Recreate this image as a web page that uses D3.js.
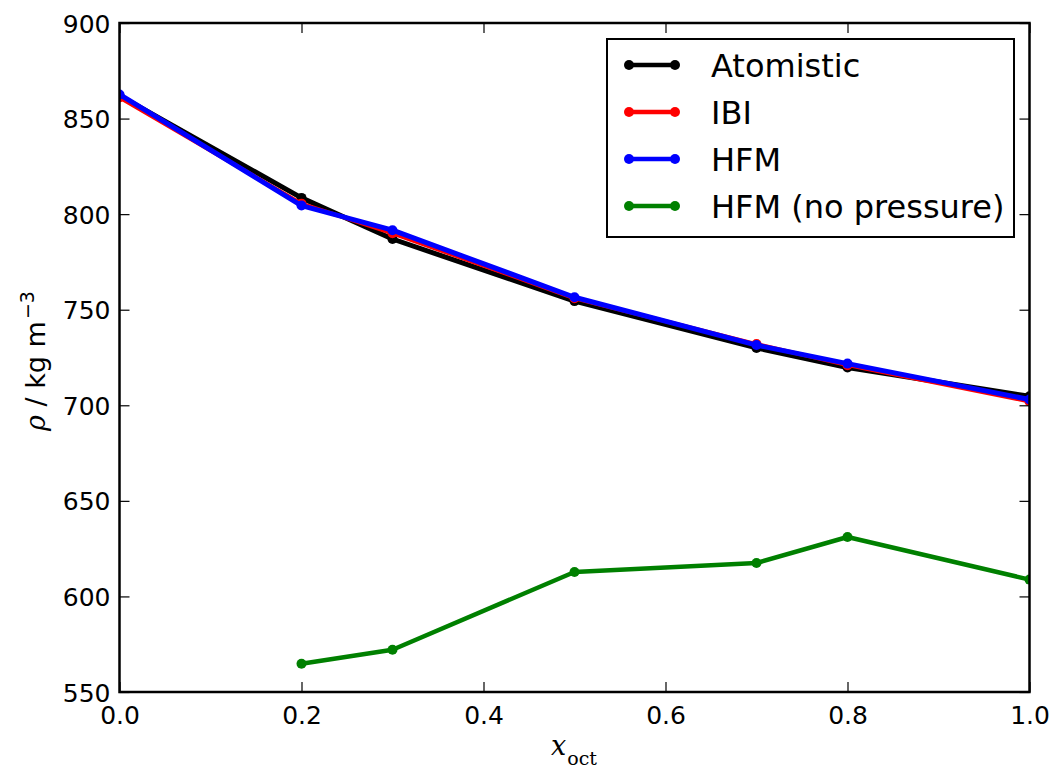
<!DOCTYPE html>
<html>
<head>
<meta charset="utf-8">
<script src="https://cdn.jsdelivr.net/npm/d3@7"></script>
<style>
  body { margin: 0; background: #fff; }
  svg { display: block; font-family: "DejaVu Sans", sans-serif; }
</style>
</head>
<body>
<svg id="chart"></svg>
<script>
// composition values
var xFrac = [0.0, 0.2, 0.3, 0.5, 0.7, 0.8, 1.0],
    xFracNoP = [0.2, 0.3, 0.5, 0.7, 0.8, 1.0];

var atomistic = [862.0, 808.5, 787.0, 754.5, 730.0, 719.8, 704.7],
    ibi = [861.0, 805.5, 790.0, 756.0, 732.0, 721.0, 702.0],
    hfm = [862.6, 804.5, 791.6, 756.5, 731.5, 721.8, 703.0],
    hfmNoPressure = [564.8, 572.1, 612.8, 617.5, 631.1, 608.8];

var seriesNames = ["Atomistic", "IBI", "HFM", "HFM (no pressure)"],
    seriesColors = ["#000000", "#ff0000", "#0000ff", "#008000"];

var xTicks = [0.0, 0.2, 0.4, 0.6, 0.8, 1.0],
    yTicks = [550, 600, 650, 700, 750, 800, 850, 900];

var width = 1054,
    height = 769,
    margin = { top: 23, right: 24.5, bottom: 77, left: 119.5 };

var svg = d3.select("#chart")
    .attr("width", width)
    .attr("height", height);

var x = d3.scaleLinear().domain([0, 1]).range([margin.left, width - margin.right]);
var y = d3.scaleLinear().domain([550, 900]).range([height - margin.bottom, margin.top]);

var series = [
    { name: seriesNames[0], color: seriesColors[0], xs: xFrac, ys: atomistic, w: 5 },
    { name: seriesNames[1], color: seriesColors[1], xs: xFrac, ys: ibi, w: 4 },
    { name: seriesNames[2], color: seriesColors[2], xs: xFrac, ys: hfm, w: 5 },
    { name: seriesNames[3], color: seriesColors[3], xs: xFracNoP, ys: hfmNoPressure, w: 4.5 }
];

var line = d3.line()
    .x(function (d) { return x(d[0]); })
    .y(function (d) { return y(d[1]); });

// clip so points at the frame edge get cut like in the original
svg.append("clipPath").attr("id", "clip")
    .append("rect")
    .attr("x", margin.left).attr("y", margin.top)
    .attr("width", width - margin.left - margin.right)
    .attr("height", height - margin.top - margin.bottom);

var plot = svg.append("g").attr("clip-path", "url(#clip)");

series.forEach(function (s) {
    var pts = s.xs.map(function (v, i) { return [v, s.ys[i]]; });
    plot.append("path")
        .datum(pts)
        .attr("fill", "none")
        .attr("stroke", s.color)
        .attr("stroke-width", s.w)
        .attr("stroke-linejoin", "round")
        .attr("d", line);
    plot.selectAll(null)
        .data(pts)
        .enter()
        .append("circle")
        .attr("cx", function (d) { return x(d[0]); })
        .attr("cy", function (d) { return y(d[1]); })
        .attr("r", 5)
        .attr("fill", s.color);
});

// axes: ticks inside on all four sides
var tickLen = 10;
var bottomAxis = d3.axisBottom(x).tickValues(xTicks).tickSizeInner(-tickLen).tickSizeOuter(0)
    .tickPadding(14).tickFormat(d3.format(".1f"));
var topAxis = d3.axisTop(x).tickValues(xTicks).tickSizeInner(-tickLen).tickSizeOuter(0).tickFormat("");
var leftAxis = d3.axisLeft(y).tickValues(yTicks).tickSizeInner(-tickLen).tickSizeOuter(0).tickPadding(9);
var rightAxis = d3.axisRight(y).tickValues(yTicks).tickSizeInner(-tickLen).tickSizeOuter(0).tickFormat("");

function styleAxis(g) {
    g.select(".domain").remove();
    g.selectAll(".tick line").attr("stroke", "#000").attr("stroke-width", 1.2);
    g.selectAll(".tick text").attr("fill", "#000").style("font-size", "25px")
        .style("font-family", "DejaVu Sans");
}

svg.append("g").attr("transform", "translate(0," + (height - margin.bottom) + ")").call(bottomAxis).call(styleAxis);
svg.append("g").attr("transform", "translate(0," + margin.top + ")").call(topAxis).call(styleAxis);
svg.append("g").attr("transform", "translate(" + margin.left + ",0)").call(leftAxis).call(styleAxis)
    .selectAll(".tick text").attr("dy", "0.36em");
svg.append("g").attr("transform", "translate(" + (width - margin.right) + ",0)").call(rightAxis).call(styleAxis);

// frame
svg.append("rect")
    .attr("x", margin.left).attr("y", margin.top)
    .attr("width", width - margin.left - margin.right)
    .attr("height", height - margin.top - margin.bottom)
    .attr("fill", "none")
    .attr("stroke", "#000")
    .attr("stroke-width", 2.5);

// axis labels
var xl = svg.append("text")
    .attr("x", 574)
    .attr("y", 755)
    .attr("text-anchor", "middle")
    .style("font-family", "DejaVu Serif")
    .style("font-size", "27px");
xl.append("tspan").style("font-style", "italic").text("x");
xl.append("tspan").attr("dy", 10).attr("dx", 1).style("font-size", "19px").text("oct");

var yl = svg.append("text")
    .attr("transform", "translate(45,361) rotate(-90)")
    .attr("text-anchor", "middle")
    .style("font-size", "27px");
yl.append("tspan").style("font-family", "DejaVu Serif").style("font-style", "italic").text("ρ");
yl.append("tspan").text(" / kg m");
yl.append("tspan").attr("dy", -11).attr("dx", 2).style("font-size", "19px").text("−3");

// legend
var lg = svg.append("g");
lg.append("rect")
    .attr("x", 607).attr("y", 39)
    .attr("width", 407).attr("height", 198)
    .attr("fill", "#fff")
    .attr("stroke", "#000")
    .attr("stroke-width", 2);

var legendY = d3.scalePoint().domain(seriesNames).range([65, 206]);

series.forEach(function (s) {
    var ly = legendY(s.name);
    lg.append("line")
        .attr("x1", 629).attr("x2", 675)
        .attr("y1", ly).attr("y2", ly)
        .attr("stroke", s.color).attr("stroke-width", 4.5);
    [629, 675].forEach(function (cx) {
        lg.append("circle").attr("cx", cx).attr("cy", ly).attr("r", 5).attr("fill", s.color);
    });
    lg.append("text")
        .attr("x", 711).attr("y", ly)
        .attr("dy", "0.36em")
        .style("font-size", "32px")
        .text(s.name);
});
</script>
</body>
</html>
